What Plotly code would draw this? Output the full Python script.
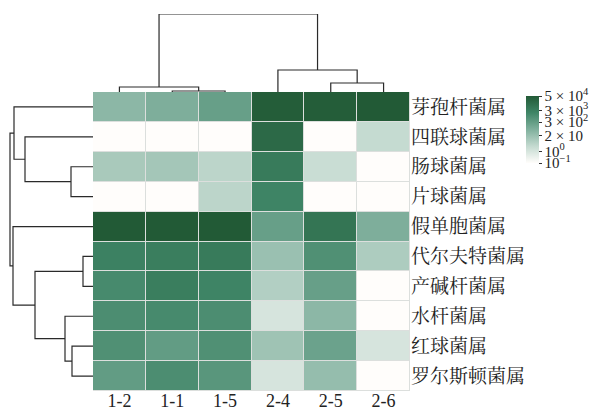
import plotly.graph_objects as go

# Samples (columns, in dendrogram order) and genera (rows, top to bottom)
samples = ["1-2", "1-1", "1-5", "2-4", "2-5", "2-6"]
genera = ["芽孢杆菌属", "四联球菌属", "肠球菌属", "片球菌属", "假单胞菌属",
          "代尔夫特菌属", "产碱杆菌属", "水杆菌属", "红球菌属", "罗尔斯顿菌属"]

# log10 of abundance per genus (row) and sample (column)
log_abundance = [
    [1.6, 1.9, 2.4, 4.6, 4.6, 4.7],
    [-1.0, -1.0, -1.0, 4.2, -1.0, 0.4],
    [1.0, 1.1, 0.6, 3.6, 0.3, -1.0],
    [-1.0, -1.0, 0.6, 3.3, -1.0, -1.0],
    [4.7, 4.7, 4.7, 2.4, 3.8, 1.9],
    [3.4, 3.5, 3.6, 1.3, 2.9, 0.9],
    [3.1, 3.5, 3.3, 0.8, 2.4, -1.0],
    [3.0, 3.1, 3.0, 0.0, 1.6, -1.0],
    [2.9, 2.5, 2.9, 1.2, 2.3, 0.0],
    [2.5, 3.0, 2.7, 0.0, 1.4, -1.0],
]

# Colour bar ticks (log10 positions and their labels)
cbar_tickvals = [4.699, 3.477, 2.477, 1.301, 0.0, -1.0]
cbar_ticktext = ["5 × 10<sup>4</sup>", "3 × 10<sup>3</sup>", "3 × 10<sup>2</sup>",
                 "2 × 10", "10<sup>0</sup>", "10<sup>−1</sup>"]

# Hierarchical clustering merges: (left member, right member, height)
# members are leaf indices or ("c", k) for the k-th earlier merge
col_merges = [
    (1, 2, 1),
    (0, ("c", 0), 5),
    (4, 5, 9),
    (3, ("c", 2), 22),
    (("c", 1), ("c", 3), 78),
]
row_merges = [
    (2, 3, 22),
    (1, ("c", 0), 68),
    (0, ("c", 1), 79),
    (5, 6, 10),
    (8, 9, 21),
    (7, ("c", 4), 28),
    (("c", 3), ("c", 5), 58),
    (4, ("c", 6), 80),
    (("c", 2), ("c", 7), 83),
]


def dendro_segments(merges):
    """Return list of (pos_list, height_list) U-shaped links."""
    pos, hgt = {}, {}
    links = []

    def member(m):
        if isinstance(m, tuple):
            return pos[m[1]], hgt[m[1]]
        return float(m), 0.0

    for k, (a, b, h) in enumerate(merges):
        pa, ha = member(a)
        pb, hb = member(b)
        links.append(([pa, pa, pb, pb], [ha, h, h, hb]))
        pos[k] = (pa + pb) / 2
        hgt[k] = h
    return links


font_family = "Liberation Serif, Noto Serif CJK SC, Noto Sans CJK SC, serif"
line_style = dict(color="#2a2a2a", width=1.2)

W, H = 594, 410
hm_x0, hm_x1 = 93 / W, 410 / W
hm_y0, hm_y1 = (H - 391) / H, (H - 92) / H

colorscale = [
    [0.0, "#FFFDFB"],
    [0.25, "#C4DAD0"],
    [0.5, "#80B09D"],
    [0.75, "#3F8566"],
    [1.0, "#225A36"],
]

fig = go.Figure()

fig.add_trace(go.Heatmap(
    z=log_abundance, x=samples, y=genera,
    colorscale=colorscale, zmin=-1.0, zmax=4.7,
    xgap=1, ygap=1, hoverinfo="skip",
    colorbar=dict(
        tickvals=cbar_tickvals, ticktext=cbar_ticktext,
        x=526 / W, xanchor="left", y=(H - 129.5) / H, yanchor="middle",
        lenmode="pixels", len=67, thickness=13, outlinewidth=0,
        ticks="outside", ticklen=3, tickcolor="#333",
        tickfont=dict(size=15, family=font_family, color="#222"),
        xpad=0, ypad=0,
    ),
))

# Column dendrogram
for xs, ys in dendro_segments(col_merges):
    fig.add_trace(go.Scatter(x=xs, y=ys, mode="lines", line=line_style,
                             xaxis="x2", yaxis="y2", hoverinfo="skip",
                             showlegend=False))

# Row dendrogram
for ps, hs in dendro_segments(row_merges):
    fig.add_trace(go.Scatter(x=hs, y=ps, mode="lines", line=line_style,
                             xaxis="x3", yaxis="y3", hoverinfo="skip",
                             showlegend=False))

# Light backing behind the heatmap so the cell gaps read as thin grid lines
fig.add_shape(type="rect", xref="x domain", yref="y domain",
              x0=0, x1=1, y0=0, y1=1, layer="below",
              fillcolor="#DCDFDD", line=dict(width=0))

hidden = dict(showgrid=False, zeroline=False, showticklabels=False,
              showline=False, ticks="")

fig.update_layout(
    width=W, height=H,
    margin=dict(l=0, r=0, t=0, b=0),
    paper_bgcolor="white", plot_bgcolor="rgba(0,0,0,0)",
    font=dict(family=font_family, color="#222"),
    xaxis=dict(domain=[hm_x0, hm_x1], showgrid=False, zeroline=False,
               ticks="", tickfont=dict(size=18), automargin=False,
               ticklabelstandoff=-3),
    yaxis=dict(domain=[hm_y0, hm_y1], side="right", autorange="reversed",
               showgrid=False, zeroline=False, ticks="",
               tickfont=dict(size=19), automargin=False),
    xaxis2=dict(domain=[hm_x0, hm_x1], range=[-0.5, 5.5], anchor="y2",
                **hidden),
    yaxis2=dict(domain=[hm_y1, (H - 14) / H], range=[0, 78], anchor="x2",
                **hidden),
    xaxis3=dict(domain=[0, hm_x0], range=[93, 0], anchor="y3", **hidden),
    yaxis3=dict(domain=[hm_y0, hm_y1], range=[9.5, -0.5], anchor="x3",
                **hidden),
)

fig.write_html("out.html")
